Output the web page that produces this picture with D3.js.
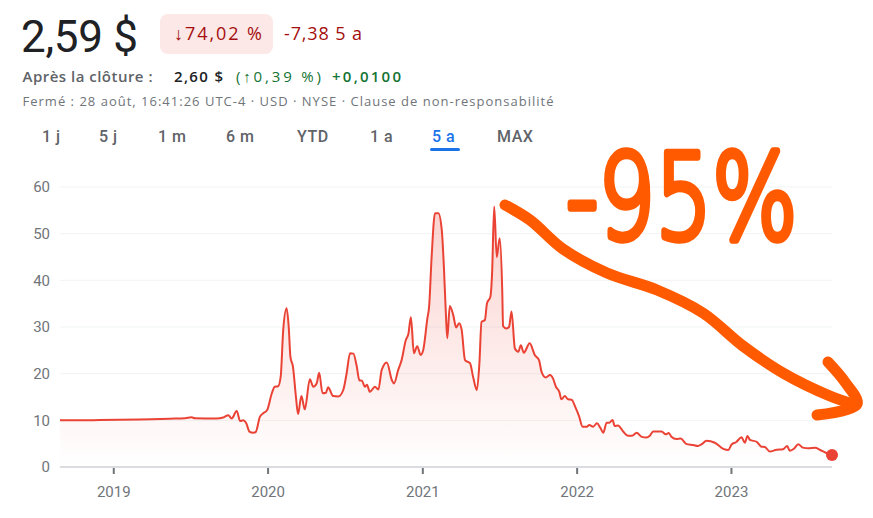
<!DOCTYPE html>
<html>
<head>
<meta charset="utf-8">
<script src="https://cdn.jsdelivr.net/npm/d3@7"></script>
<style>
  html, body { margin: 0; padding: 0; background: #fff; }
  svg { display: block; font-family: Roboto, "Noto Sans", Arial, sans-serif; }
</style>
</head>
<body>
<svg id="chart" width="873" height="518"></svg>
<script>
// ---------- data ----------
const dates = [
  "2018-08-28","2018-10-15","2018-11-30","2019-01-15","2019-03-05","2019-05-15","2019-06-20","2019-07-05",
  "2019-07-13","2019-09-02","2019-09-18","2019-09-30","2019-10-08","2019-10-20","2019-10-28","2019-11-04",
  "2019-11-11","2019-11-19","2019-11-28","2019-12-04","2019-12-14","2019-12-23","2019-12-31","2020-01-11",
  "2020-01-18","2020-01-26","2020-02-01","2020-02-07","2020-02-15","2020-02-20","2020-02-24","2020-03-01",
  "2020-03-08","2020-03-13","2020-03-21","2020-03-29","2020-04-10","2020-04-18","2020-04-26","2020-05-02",
  "2020-05-10","2020-05-18","2020-05-23","2020-06-04","2020-06-16","2020-06-28","2020-07-06","2020-07-14",
  "2020-07-22","2020-07-30","2020-08-05","2020-08-11","2020-08-18","2020-08-23","2020-08-30","2020-09-11",
  "2020-09-19","2020-09-27","2020-10-09","2020-10-21","2020-10-26","2020-11-05","2020-11-13","2020-11-23",
  "2020-11-29","2020-12-05","2020-12-12","2020-12-20","2020-12-28","2021-01-03","2021-01-13","2021-01-17",
  "2021-01-23","2021-01-31","2021-02-08","2021-02-16","2021-02-21","2021-02-26","2021-03-01","2021-03-07",
  "2021-03-15","2021-03-22","2021-03-29","2021-04-04","2021-04-12","2021-04-24","2021-05-01","2021-05-10",
  "2021-05-16","2021-05-21","2021-05-29","2021-06-03","2021-06-11","2021-06-15","2021-06-20","2021-06-26",
  "2021-07-03","2021-07-09","2021-07-11","2021-07-19","2021-07-25","2021-07-31","2021-08-08","2021-08-16",
  "2021-08-22","2021-08-29","2021-09-12","2021-09-24","2021-10-04","2021-10-10","2021-10-20","2021-10-30",
  "2021-11-06","2021-11-13","2021-11-21","2021-11-26","2021-12-04","2021-12-12","2021-12-20","2021-12-30",
  "2022-01-07","2022-01-15","2022-01-24","2022-01-31","2022-02-09","2022-02-18","2022-02-26","2022-03-05",
  "2022-03-13","2022-03-19","2022-03-27","2022-04-01","2022-04-09","2022-04-21","2022-05-03","2022-05-12",
  "2022-05-23","2022-06-03","2022-06-15","2022-06-23","2022-07-01","2022-07-21","2022-07-31","2022-08-07",
  "2022-08-13","2022-08-25","2022-09-04","2022-09-18","2022-10-04","2022-10-15","2022-10-24","2022-11-04",
  "2022-11-24","2022-12-14","2022-12-26","2023-01-03","2023-01-13","2023-01-26","2023-02-03","2023-02-09",
  "2023-02-15","2023-03-03","2023-03-14","2023-03-22","2023-04-03","2023-04-19","2023-05-04","2023-05-14",
  "2023-05-20","2023-05-30","2023-06-09","2023-06-20","2023-07-03","2023-07-19","2023-07-31","2023-08-12",
  "2023-08-28"
];
const prices = [
  10.0,10.0,10.05,10.1,10.2,10.35,10.45,10.65,
  10.45,10.4,10.6,11.1,10.4,12.0,9.85,10.0,
  9.5,7.6,7.35,7.5,10.8,11.6,12.2,15.8,
  17.2,17.3,19.35,29.4,34.0,30.0,23.6,21.5,
  15.1,11.35,15.2,12.35,18.8,17.2,17.9,20.2,
  15.8,15.9,17.1,15.2,15.1,16.5,20.1,24.4,
  24.3,21.5,18.6,18.5,17.2,17.6,16.1,17.2,
  16.6,20.8,22.4,18.6,17.9,20.8,22.9,27.2,
  28.5,32.1,24.4,25.9,24.0,25.0,31.9,34.3,
  45.0,54.4,54.4,50.8,42.9,32.2,27.6,34.5,
  32.6,29.9,30.8,29.4,22.9,22.2,19.35,16.5,
  22.2,31.1,31.5,35.1,36.5,41.5,55.8,45.0,
  49.0,37.9,30.2,29.7,30.0,33.3,25.4,24.7,
  26.1,24.5,26.5,24.0,22.9,20.4,19.2,19.7,
  19.0,17.2,16.1,14.5,15.2,14.5,14.4,12.6,
  10.8,8.65,8.6,9.0,8.65,9.35,8.4,7.35,
  9.5,9.5,10.07,8.8,8.9,7.6,6.7,6.7,
  7.35,6.5,6.3,6.7,7.6,7.6,7.0,7.3,
  6.5,6.0,6.1,4.9,4.7,4.5,4.9,5.6,
  5.2,3.9,3.65,4.9,5.3,6.35,5.2,6.65,
  5.8,5.4,4.35,4.3,3.3,3.7,3.8,4.5,
  3.5,3.9,4.9,4.15,4.0,4.1,3.65,3.1,
  2.59
];
const yTicks = [0, 10, 20, 30, 40, 50, 60];
const xTickYears = ["2019", "2020", "2021", "2022", "2023"];
const rangeTabs = ["1 j", "5 j", "1 m", "6 m", "YTD", "1 a", "5 a", "MAX"];
const activeTab = "5 a";
const domainStart = "2018-08-28", domainEnd = "2023-08-28";

// ---------- setup ----------
const parse = d3.timeParse("%Y-%m-%d");
const data = dates.map((d, i) => ({ date: parse(d), value: prices[i] }));
const svg = d3.select("#chart");
const W = 873, H = 518;
svg.append("rect").attr("width", W).attr("height", H).attr("fill", "#fff");

const plot = { left: 60, right: 832, top: 187, bottom: 467 };
const x = d3.scaleTime().domain([parse(domainStart), parse(domainEnd)]).range([plot.left, plot.right]);
const y = d3.scaleLinear().domain([0, 60]).range([plot.bottom, plot.top]);

// ---------- header ----------
const HF = '"Open Sans", Roboto, sans-serif';
const hdr = svg.append("g").attr("font-family", HF);
function txt(xp, yp, size, weight, color, s, len) {
  const t = hdr.append("text").attr("x", xp).attr("y", yp).attr("font-size", size)
    .attr("font-weight", weight).attr("fill", color).text(s);
  if (len) t.attr("textLength", len).attr("lengthAdjust", "spacing");
  return t;
}
txt(21, 52, 44, 400, "#202124", "2,59 $", 117).attr("font-family", "Roboto, sans-serif");
hdr.append("rect").attr("x", 160).attr("y", 14).attr("width", 113).attr("height", 40).attr("rx", 8).attr("fill", "#fce8e6");
txt(174, 40, 18, 400, "#a50e0e", "↓74,02 %", 88);
txt(284, 40, 18, 400, "#a50e0e", "-7,38 5 a", 78);

txt(22.5, 81.5, 15, 600, "#5f6368", "Après la clôture :", 130);
txt(174, 81.5, 15, 600, "#202124", "2,60 $", 49);
txt(236, 81.5, 15, 400, "#137333", "(↑0,39 %)", 85);
txt(332, 81.5, 15, 600, "#137333", "+0,0100", 69);

txt(22.5, 106, 13, 400, "#70757a", "Fermé : 28 août, 16:41:26 UTC-4 · USD · NYSE · Clause de non-responsabilité", 531);

const tabX = [42, 99, 158, 226, 297, 370, 432, 497];
rangeTabs.forEach((t, i) => {
  hdr.append("text").attr("x", tabX[i]).attr("y", 142).attr("font-size", 16).attr("font-weight", 500)
    .attr("font-family", "Roboto, sans-serif").attr("letter-spacing", 0.5)
    .attr("fill", t === activeTab ? "#1a73e8" : "#5f6368").text(t);
});
hdr.append("rect").attr("x", 430).attr("y", 148).attr("width", 30).attr("height", 3).attr("rx", 1.5).attr("fill", "#1a73e8");

// ---------- grid ----------
svg.append("g").selectAll("line").data(yTicks.filter(v => v > 0)).join("line")
  .attr("x1", plot.left).attr("x2", plot.right)
  .attr("y1", d => y(d)).attr("y2", d => y(d))
  .attr("stroke", "#f1f3f4").attr("stroke-width", 1);

const yAxis = svg.append("g").attr("transform", `translate(${plot.left - 10},0)`)
  .call(d3.axisLeft(y).tickValues(yTicks).tickSize(0).tickPadding(0));
yAxis.select(".domain").remove();
yAxis.selectAll("text").attr("font-size", 15).attr("fill", "#70757a").attr("font-family", "Roboto, sans-serif");

// ---------- area + line ----------
const defs = svg.append("defs");
const grad = defs.append("linearGradient").attr("id", "areaGrad")
  .attr("gradientUnits", "userSpaceOnUse").attr("x1", 0).attr("x2", 0).attr("y1", y(56)).attr("y2", plot.bottom);
grad.append("stop").attr("offset", 0).attr("stop-color", "#ea4335").attr("stop-opacity", 0.24);
grad.append("stop").attr("offset", 1).attr("stop-color", "#ea4335").attr("stop-opacity", 0.0);

const area = d3.area().x(d => x(d.date)).y0(plot.bottom).y1(d => y(d.value)).curve(d3.curveMonotoneX);
const line = d3.line().x(d => x(d.date)).y(d => y(d.value)).curve(d3.curveMonotoneX);

svg.append("path").datum(data).attr("d", area).attr("fill", "url(#areaGrad)");

// baseline axis
const xAxis = svg.append("g").attr("transform", `translate(0,${plot.bottom})`)
  .call(d3.axisBottom(x).tickValues(xTickYears.map(yv => parse(yv + "-01-01"))).tickSize(7).tickPadding(12)
    .tickFormat(d3.timeFormat("%Y")));
xAxis.select(".domain").attr("stroke", "#dadce0").attr("stroke-width", 2).attr("d", `M${plot.left},0H${plot.right}`);
xAxis.selectAll(".tick line").attr("stroke", "#70757a").attr("stroke-width", 2).attr("y1", 1);
xAxis.selectAll("text").attr("font-size", 15).attr("fill", "#70757a").attr("font-family", "Roboto, sans-serif");

svg.append("path").datum(data).attr("d", line).attr("fill", "none")
  .attr("stroke", "#ea4335").attr("stroke-width", 2).attr("stroke-linejoin", "round");

const last = data[data.length - 1];
svg.append("circle").attr("cx", x(last.date)).attr("cy", y(last.value)).attr("r", 6).attr("fill", "#ea4335");

// ---------- hand-drawn annotation ----------
const ann = svg.append("g").attr("fill", "none").attr("stroke", "#ff5a00")
  .attr("stroke-linecap", "round").attr("stroke-linejoin", "round");
const arrowPts = [[505,205],[530,220],[563,249],[607,273],[657,290],[703,313],[743,346],[783,373],[830,396],[856,405]];
ann.append("path").attr("d", d3.line().curve(d3.curveCatmullRom)(arrowPts)).attr("stroke-width", 11);
const headPts = [[828,362],[845,382],[857,404],[817,415]];
ann.append("path").attr("d", d3.line().curve(d3.curveCatmullRom)(headPts)).attr("stroke-width", 11);

svg.append("text").attr("transform", "translate(566,238) scale(0.8,1.05)")
  .attr("font-family", '"DejaVu Sans", sans-serif').attr("font-weight", 200).attr("font-size", 112)
  .attr("fill", "#ff5a00").attr("stroke", "#ff5a00").attr("stroke-width", 7)
  .attr("stroke-linejoin", "round").attr("stroke-linecap", "round")
  .text("-95%");
</script>
</body>
</html>
